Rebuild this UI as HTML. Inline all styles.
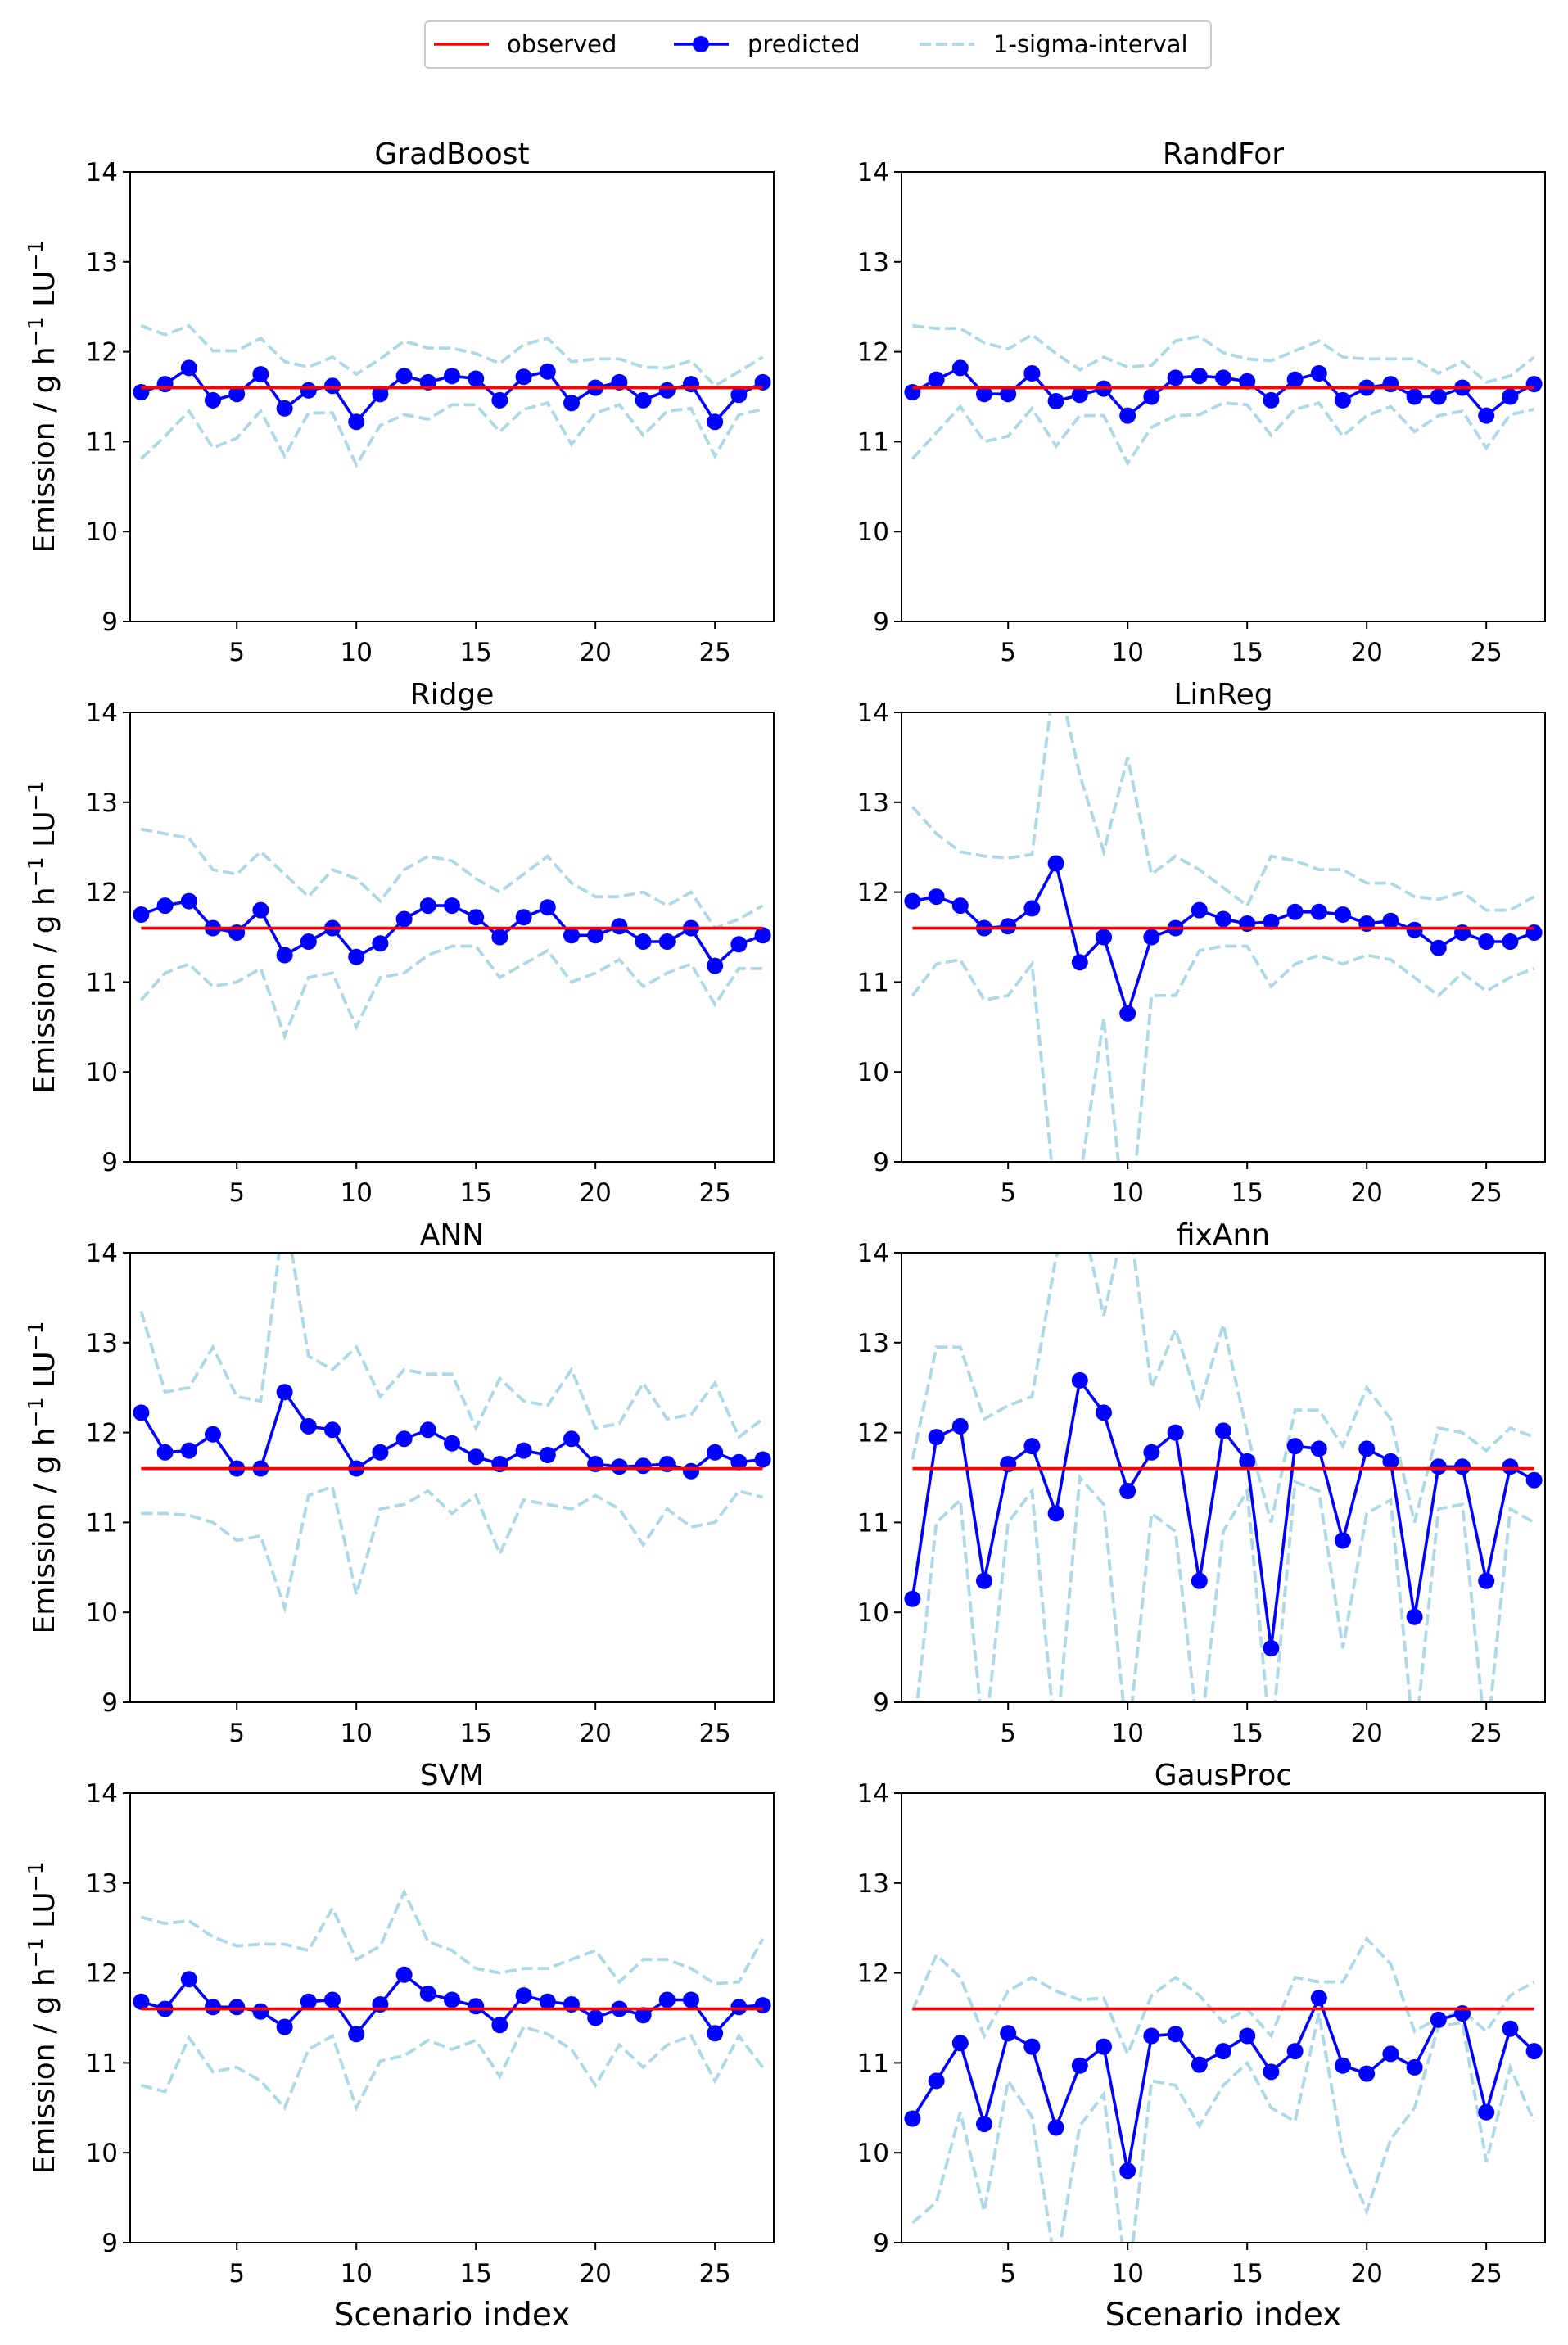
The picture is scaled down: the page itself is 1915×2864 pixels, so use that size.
<!DOCTYPE html>
<html><head><meta charset="utf-8"><style>
html,body{margin:0;padding:0;background:#fff;}
svg text{font-family:"DejaVu Sans","Liberation Sans",sans-serif;fill:#000;}
</style></head><body>
<svg id="s" width="1915" height="2859" xmlns="http://www.w3.org/2000/svg"></svg>
<script>
const D={
GradBoost:[[11.55,11.64,11.82,11.46,11.53,11.75,11.37,11.57,11.62,11.22,11.53,11.73,11.66,11.73,11.70,11.46,11.72,11.78,11.43,11.60,11.66,11.46,11.57,11.64,11.22,11.52,11.66],
[12.29,12.19,12.29,12.01,12.01,12.15,11.89,11.83,11.94,11.75,11.92,12.12,12.04,12.04,11.98,11.87,12.08,12.15,11.89,11.92,11.92,11.83,11.82,11.90,11.62,11.78,11.94],
[10.81,11.06,11.34,10.93,11.04,11.34,10.84,11.32,11.32,10.74,11.18,11.30,11.25,11.41,11.41,11.11,11.36,11.43,10.97,11.32,11.41,11.07,11.34,11.37,10.84,11.30,11.36]],
RandFor:[[11.55,11.69,11.82,11.53,11.53,11.76,11.45,11.52,11.59,11.29,11.50,11.71,11.73,11.71,11.67,11.46,11.69,11.76,11.46,11.60,11.64,11.50,11.50,11.60,11.29,11.50,11.64],
[12.29,12.26,12.26,12.10,12.03,12.19,11.98,11.80,11.94,11.83,11.85,12.12,12.17,11.99,11.92,11.90,12.01,12.12,11.94,11.92,11.92,11.92,11.76,11.89,11.66,11.73,11.94],
[10.81,11.10,11.39,11.00,11.06,11.37,10.95,11.29,11.29,10.76,11.16,11.29,11.30,11.43,11.41,11.07,11.36,11.43,11.06,11.29,11.39,11.11,11.29,11.34,10.93,11.30,11.36]],
Ridge:[[11.75,11.85,11.9,11.6,11.55,11.8,11.3,11.45,11.6,11.28,11.43,11.7,11.85,11.85,11.72,11.5,11.72,11.83,11.52,11.52,11.62,11.45,11.45,11.6,11.18,11.42,11.52],
[12.7,12.65,12.6,12.25,12.2,12.45,12.2,11.95,12.25,12.15,11.9,12.25,12.4,12.35,12.15,12.0,12.2,12.4,12.1,11.95,11.95,12.0,11.85,12.0,11.6,11.7,11.85],
[10.8,11.1,11.2,10.95,11.0,11.15,10.4,11.05,11.1,10.5,11.05,11.1,11.3,11.4,11.4,11.05,11.2,11.35,11.0,11.1,11.25,10.95,11.1,11.2,10.75,11.15,11.15]],
LinReg:[[11.9,11.95,11.85,11.6,11.62,11.82,12.32,11.22,11.5,10.65,11.5,11.6,11.8,11.7,11.65,11.67,11.78,11.78,11.75,11.65,11.68,11.58,11.38,11.55,11.45,11.45,11.55],
[12.95,12.65,12.45,12.4,12.38,12.42,14.5,13.3,12.45,13.5,12.2,12.4,12.25,12.05,11.85,12.4,12.35,12.25,12.25,12.1,12.1,11.95,11.92,12.0,11.8,11.8,11.95],
[10.85,11.2,11.25,10.8,10.85,11.2,8.5,8.8,10.6,8.0,10.85,10.85,11.35,11.4,11.4,10.95,11.2,11.3,11.2,11.3,11.25,11.05,10.85,11.1,10.9,11.05,11.15]],
ANN:[[12.22,11.78,11.8,11.98,11.6,11.6,12.45,12.07,12.03,11.6,11.78,11.93,12.03,11.88,11.73,11.65,11.8,11.75,11.93,11.65,11.62,11.63,11.65,11.57,11.78,11.67,11.7],
[13.35,12.45,12.5,12.95,12.4,12.35,14.5,12.85,12.7,12.95,12.4,12.7,12.65,12.65,12.05,12.6,12.35,12.3,12.7,12.05,12.1,12.55,12.15,12.2,12.55,11.95,12.15],
[11.1,11.1,11.08,11.0,10.8,10.85,10.05,11.3,11.4,10.2,11.15,11.2,11.35,11.1,11.3,10.65,11.25,11.2,11.15,11.3,11.15,10.75,11.15,10.95,11.0,11.35,11.28]],
fixAnn:[[10.15,11.95,12.07,10.35,11.65,11.85,11.1,12.58,12.22,11.35,11.78,12.0,10.35,12.02,11.68,9.6,11.85,11.82,10.8,11.82,11.68,9.95,11.62,11.62,10.35,11.62,11.47],
[11.7,12.95,12.95,12.15,12.3,12.4,13.95,14.5,13.3,14.5,12.5,13.15,12.3,13.2,12.0,11.0,12.25,12.25,11.85,12.5,12.15,11.0,12.05,12.0,11.8,12.05,11.95],
[8.5,11.0,11.25,8.5,11.0,11.35,8.5,11.5,11.2,8.5,11.1,10.9,8.5,10.9,11.35,8.5,11.45,11.35,9.6,11.1,11.25,8.5,11.15,11.2,8.5,11.15,11.0]],
SVM:[[11.68,11.6,11.93,11.62,11.62,11.57,11.4,11.68,11.7,11.32,11.65,11.98,11.77,11.7,11.63,11.42,11.75,11.68,11.65,11.5,11.6,11.53,11.7,11.7,11.33,11.62,11.64],
[12.62,12.55,12.58,12.4,12.3,12.32,12.32,12.25,12.72,12.15,12.3,12.9,12.35,12.25,12.05,12.0,12.05,12.05,12.15,12.25,11.9,12.15,12.15,12.05,11.88,11.9,12.38],
[10.75,10.68,11.28,10.9,10.95,10.8,10.5,11.15,11.3,10.5,11.02,11.08,11.25,11.15,11.25,10.85,11.4,11.32,11.15,10.75,11.2,10.95,11.2,11.3,10.8,11.3,10.95]],
GausProc:[[10.38,10.8,11.22,10.32,11.33,11.18,10.28,10.97,11.18,9.8,11.3,11.32,10.98,11.13,11.3,10.9,11.13,11.72,10.97,10.88,11.1,10.95,11.48,11.55,10.45,11.38,11.13],
[11.58,12.2,11.95,11.3,11.8,11.95,11.8,11.7,11.72,11.1,11.75,11.95,11.75,11.45,11.6,11.3,11.95,11.9,11.9,12.38,12.1,11.35,11.5,11.58,11.35,11.75,11.9],
[9.22,9.45,10.45,9.35,10.8,10.4,8.7,10.3,10.65,8.5,10.8,10.75,10.3,10.75,11.0,10.5,10.35,11.55,10.0,9.35,10.15,10.5,11.4,11.45,9.9,10.95,10.35]]
};
const names=["GradBoost","RandFor","Ridge","LinReg","ANN","fixAnn","SVM","GausProc"];
const lefts=[159,1101],tops=[210,870,1530,2190],W=786,H=549,X0=0.54,X1=27.46;
let o='<defs>';
for(let i=0;i<8;i++){const L=lefts[i%2],T=tops[i>>1];o+=`<clipPath id="c${i}"><rect x="${L}" y="${T}" width="${W}" height="${H}"/></clipPath>`;}
o+='</defs>';
for(let i=0;i<8;i++){
 const L=lefts[i%2],T=tops[i>>1],d=D[names[i]];
 const fx=x=>L+(x-X0)/(X1-X0)*W, fy=v=>T+(14-v)/5*H;
 const pts=a=>a.map((v,k)=>fx(k+1).toFixed(1)+','+fy(v).toFixed(1)).join(' ');
 o+=`<g clip-path="url(#c${i})">`;
 o+=`<polyline points="${pts(d[1])}" fill="none" stroke="#add8e6" stroke-width="3.8" stroke-dasharray="14,6"/>`;
 o+=`<polyline points="${pts(d[2])}" fill="none" stroke="#add8e6" stroke-width="3.8" stroke-dasharray="14,6"/>`;
 o+=`<polyline points="${pts(d[0])}" fill="none" stroke="#0000ff" stroke-width="3.6"/>`;
 d[0].forEach((v,k)=>{o+=`<circle cx="${fx(k+1).toFixed(1)}" cy="${fy(v).toFixed(1)}" r="10" fill="#0000ff"/>`;});
 o+=`<line x1="${fx(1)}" y1="${fy(11.6)}" x2="${fx(27)}" y2="${fy(11.6)}" stroke="#ff0000" stroke-width="3.6"/>`;
 o+='</g>';
 o+=`<rect x="${L}" y="${T}" width="${W}" height="${H}" fill="none" stroke="#000" stroke-width="2"/>`;
 for(let v=9;v<=14;v++){const y=fy(v);o+=`<line x1="${L-9}" y1="${y}" x2="${L}" y2="${y}" stroke="#000" stroke-width="2"/><text x="${L-15}" y="${y+11}" font-size="31" text-anchor="end">${v}</text>`;}
 for(let v=5;v<=25;v+=5){const x=fx(v);o+=`<line x1="${x}" y1="${T+H}" x2="${x}" y2="${T+H+9}" stroke="#000" stroke-width="2"/><text x="${x}" y="${T+H+48}" font-size="31" text-anchor="middle">${v}</text>`;}
 o+=`<text x="${L+W/2}" y="${T-10}" font-size="36" text-anchor="middle">${names[i]}</text>`;
 if(i%2==0){const cy=T+H/2;o+=`<text transform="translate(66,${cy}) rotate(-90)" font-size="36" text-anchor="middle">Emission / g h<tspan dy="-14" font-size="25">−1</tspan><tspan dy="14"> LU</tspan><tspan dy="-14" font-size="25">−1</tspan></text>`;}
}
o+=`<text x="${159+W/2}" y="2840" font-size="39" text-anchor="middle">Scenario index</text>`;
o+=`<text x="${1101+W/2}" y="2840" font-size="39" text-anchor="middle">Scenario index</text>`;
o+=`<rect x="519" y="26" width="960" height="57" rx="5" fill="#fff" stroke="#ccc" stroke-width="2"/>`;
o+=`<line x1="530" y1="54" x2="597" y2="54" stroke="#ff0000" stroke-width="3.6"/><text x="619" y="64" font-size="29">observed</text>`;
o+=`<line x1="823" y1="54" x2="890" y2="54" stroke="#0000ff" stroke-width="3.6"/><circle cx="856" cy="54" r="10" fill="#0000ff"/><text x="913" y="64" font-size="29">predicted</text>`;
o+=`<line x1="1123" y1="54" x2="1190" y2="54" stroke="#add8e6" stroke-width="3.8" stroke-dasharray="14,6"/><text x="1213" y="64" font-size="29">1-sigma-interval</text>`;
document.getElementById('s').innerHTML=o;
</script>
</body></html>
